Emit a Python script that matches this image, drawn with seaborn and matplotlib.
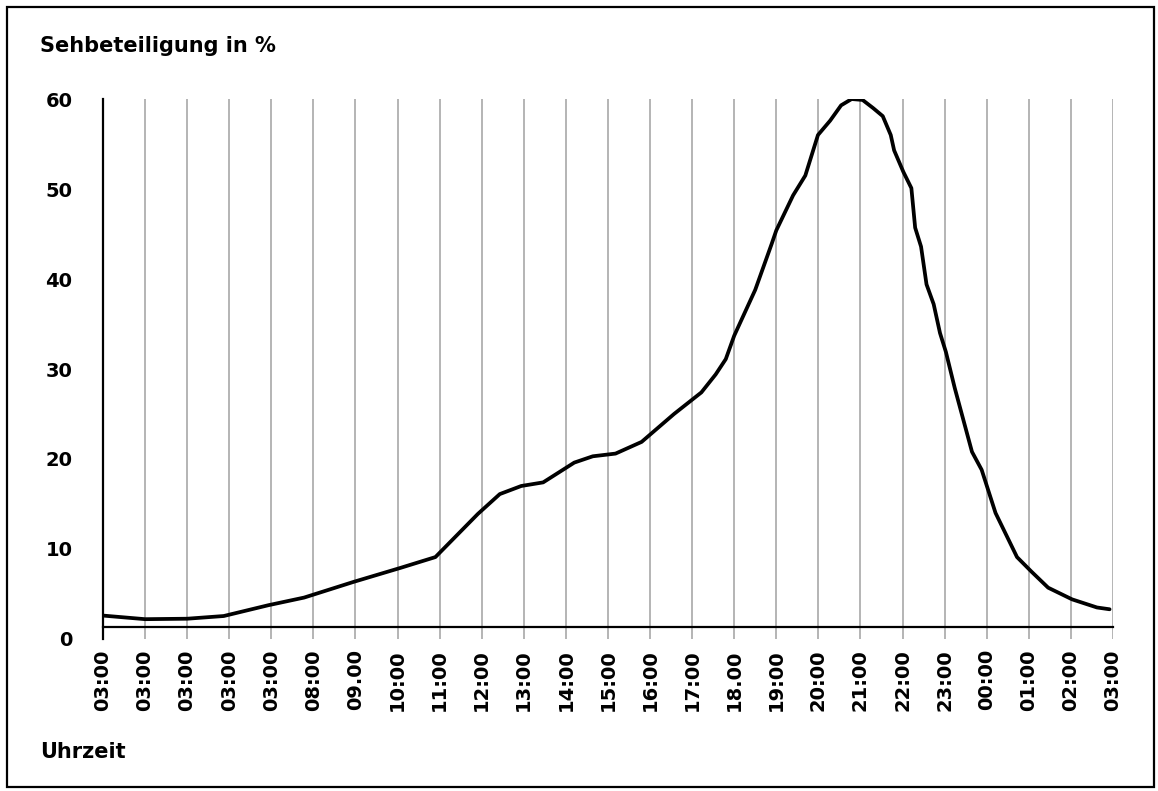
import seaborn as sns
import matplotlib.pyplot as plt
from matplotlib.patches import Rectangle
import pandas as pd

sns.set_style("white")
plt.rcParams['font.family'] = ['DejaVu Sans']
plt.rcParams['text.color'] = 'black'

# axis slots (one per tick) and their labels, as printed on the chart
tick_labels = ["03:00", "03:00", "03:00", "03:00", "03:00", "08:00", "09.00",
               "10:00", "11:00", "12:00", "13:00", "14:00", "15:00", "16:00",
               "17:00", "18.00", "19:00", "20:00", "21:00", "22:00", "23:00",
               "00:00", "01:00", "02:00", "03:00"]

# position along the time axis (tick index) and viewing share in %
slot = [0, 1.0, 2.0, 2.87, 3.93, 4.78, 5.96, 7.07, 7.9, 8.91, 9.43, 9.94,
        10.46, 11.2, 11.64, 12.18, 12.8, 13.57, 14.22, 14.56, 14.8, 15.0,
        15.5, 15.89, 16.0, 16.4, 16.69, 16.99, 17.28, 17.54, 17.79, 18.05,
        18.3, 18.53, 18.72, 18.8, 19.02, 19.21, 19.3, 19.44, 19.57, 19.74,
        19.89, 20.03, 20.24, 20.65, 20.88, 21.21, 21.72, 22.06, 22.46, 23.03,
        23.62, 23.92]
share = [2.6, 2.2, 2.25, 2.55, 3.75, 4.6, 6.35, 7.9, 9.1, 13.9, 16.1, 17.0,
         17.4, 19.6, 20.3, 20.6, 21.9, 25.0, 27.4, 29.4, 31.1, 33.7,
         38.8, 43.9, 45.4, 49.3, 51.5, 56.0, 57.6, 59.3, 60.0, 59.9,
         59.0, 58.1, 56.0, 54.3, 51.9, 50.1, 45.7, 43.6, 39.4, 37.2,
         34.0, 31.9, 27.9, 20.8, 18.8, 14.0, 9.1, 7.5, 5.7, 4.4,
         3.5, 3.3]

df = pd.DataFrame({"slot": slot, "share": share})

fig = plt.figure(figsize=(11.58, 7.91), dpi=100)
ax = fig.add_axes([0.0889, 0.1922, 0.9611 - 0.0889, 0.8748 - 0.1922])

sns.lineplot(data=df, x="slot", y="share", color="black", linewidth=2.7, ax=ax)

# spines first: moving a spine resets the tick objects
for s in ["top", "right"]:
    ax.spines[s].set_visible(False)
ax.spines["bottom"].set_position(("data", 1.33))
for s in ["left", "bottom"]:
    ax.spines[s].set_linewidth(1.6)
    ax.spines[s].set_color("black")

ax.set_xlim(0, 24)
ax.set_ylim(0, 60)
ax.set_xticks(range(len(tick_labels)))
ax.set_xticklabels(tick_labels, rotation=90, fontsize=14, fontweight="bold")
ax.set_yticks(range(0, 61, 10))
ax.set_yticklabels([str(v) for v in range(0, 61, 10)], fontsize=14, fontweight="bold")
ax.set_xlabel("")
ax.set_ylabel("")

ax.grid(axis="x", color="#a8a8a8", linewidth=1.2)
ax.grid(axis="y", visible=False)

ax.tick_params(axis="x", direction="out", length=8, width=1.6, pad=8,
               colors="black", labelrotation=90)
ax.tick_params(axis="y", direction="out", length=15, width=1.6, pad=7, colors="black")

fig.text(40 / 1158, 1 - 46 / 791, "Sehbeteiligung in %", fontsize=15,
         fontweight="bold", va="center", ha="left", color="black")
fig.text(40 / 1158, 1 - 752 / 791, "Uhrzeit", fontsize=15,
         fontweight="bold", va="center", ha="left", color="black")

# frame around the whole picture
fig.patches.append(Rectangle((7 / 1158, 4 / 791), 1 - 11 / 1158, 1 - 11 / 791,
                             transform=fig.transFigure, fill=False,
                             edgecolor="black", linewidth=1.6))

fig.savefig("out.png", dpi=100)
plt.close(fig)
